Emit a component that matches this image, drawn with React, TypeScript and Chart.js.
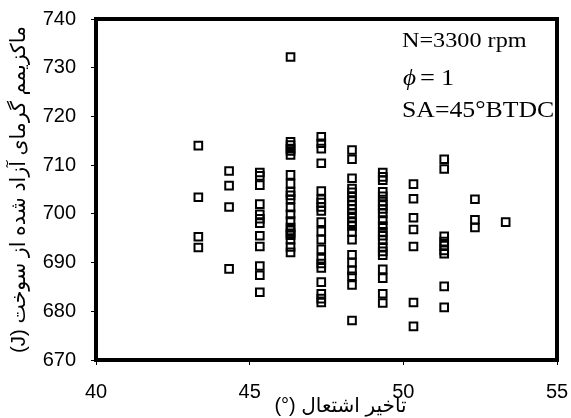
import React, { useEffect, useRef } from "react";
import { Chart, registerables } from "chart.js";

Chart.register(...registerables);

// Ignition delay columns (deg) and the peak heat release values (J) read at each
const delayColumns = [43.33, 44.33, 45.33, 46.33, 47.33, 48.33, 49.33, 50.33, 51.33, 52.33, 53.33];

const heat4333 = [714, 703.4, 695.3, 693.1];
const heat4433 = [708.8, 705.8, 701.4, 688.7];
const heat4533 = [708.5, 707.8, 705.9, 702, 699.9, 699, 698.1, 695.5, 693.3, 689.3, 687.4, 683.9];
const heat4633 = [732.2, 714.8, 714.1, 713.4, 712.9, 712.1, 708, 706.2, 704.5, 703.8, 703, 701.3, 699.9, 698.5, 697.2, 696.6, 696, 695.6, 694.7, 693.2, 692.1];
const heat4733 = [715.8, 714.5, 713.4, 710.4, 704.7, 703, 702.3, 701.4, 700.6, 698.3, 696.4, 694.7, 692.7, 690.8, 689.8, 688.9, 686, 683.6, 682.6, 681.8];
const heat4833 = [713.1, 711.2, 707.3, 705.2, 704.4, 703.5, 702.6, 701.8, 701, 700.1, 699.2, 698.3, 697.5, 696.3, 694.7, 691.6, 690, 688.4, 687.2, 685.4, 678.1];
const heat4933 = [708.5, 707.6, 706.9, 704.5, 703.6, 702.5, 701.8, 701, 700.1, 698.7, 697.5, 696.3, 695.5, 694.6, 693.2, 692.3, 691.5, 688.6, 686.8, 683.6, 681.7];
const heat5033 = [706.1, 703.1, 699.2, 696.8, 693.3, 681.8, 676.9];
const heat5133 = [711.2, 709.2, 695.4, 694.3, 693.5, 692.5, 691.8, 685.1, 680.8];
const heat5233 = [703, 698.8, 697.2];
const heat5333 = [698.3];

const heatByColumn = [heat4333, heat4433, heat4533, heat4633, heat4733, heat4833, heat4933, heat5033, heat5133, heat5233, heat5333];

const xAxisMin = 40;
const xAxisMax = 55;
const xAxisStep = 5;
const yAxisMin = 670;
const yAxisMax = 740;
const yAxisStep = 10;

const xTitle = "تاخیر اشتعال (°)";
const yTitle = "ماکزیمم گرمای آزاد شده از سوخت (J)";
const noteSpeed = "N=3300 rpm";
const notePhiSymbol = "ϕ";
const notePhiEq = "=";
const notePhiValue = "1";
const noteSpark = "SA=45°BTDC";

const SANS = 'Arial, "Liberation Sans", "DejaVu Sans", sans-serif';
const SERIF = '"Liberation Serif", "Times New Roman", serif';
const ARABIC = 'Arial, "DejaVu Sans", sans-serif';

const decorPlugin = {
  id: "decor",
  afterDraw(chart: any) {
    const { ctx, chartArea: a } = chart;
    ctx.save();
    // frame
    ctx.strokeStyle = "#000";
    ctx.lineWidth = 4;
    ctx.strokeRect(a.left, a.top, a.right - a.left, a.bottom - a.top);

    // annotations
    ctx.fillStyle = "#000";
    ctx.direction = "ltr";
    ctx.textAlign = "left";
    ctx.textBaseline = "alphabetic";
    const stretched = (text: string, x: number, y: number, font: string, sx: number) => {
      ctx.save();
      ctx.font = font;
      ctx.translate(x, y);
      ctx.scale(sx, 1);
      ctx.fillText(text, 0, 0);
      ctx.restore();
    };
    const nx = a.right - 155;
    stretched(noteSpeed, nx, a.top + 28, `22px ${SERIF}`, 1.1);
    stretched(notePhiSymbol, nx + 1, a.top + 66, `italic 24px ${SERIF}`, 1.05);
    stretched(notePhiEq, nx + 18, a.top + 66, `24px ${SERIF}`, 1.1);
    stretched(notePhiValue, nx + 39, a.top + 66, `24px ${SERIF}`, 1.1);
    stretched(noteSpark, nx, a.top + 98, `23px ${SERIF}`, 1.12);

    // axis titles (right-to-left)
    ctx.direction = "rtl";
    ctx.textAlign = "center";
    ctx.textBaseline = "middle";
    ctx.font = `20px ${ARABIC}`;
    ctx.fillText(xTitle, (a.left + a.right) / 2 + 14, 406);

    ctx.save();
    ctx.font = `20.5px ${ARABIC}`;
    ctx.translate(19, (a.top + a.bottom) / 2);
    ctx.rotate(-Math.PI / 2);
    ctx.fillText(yTitle, 0, 0);
    ctx.restore();

    ctx.restore();
  },
};

export default function App() {
  const canvasRef = useRef<HTMLCanvasElement | null>(null);

  useEffect(() => {
    if (!canvasRef.current) return;
    const points: { x: number; y: number }[] = [];
    delayColumns.forEach((x, i) => {
      heatByColumn[i].forEach((y) => points.push({ x, y }));
    });

    const tickFont = { family: SANS, size: 20 };
    const chart = new Chart(canvasRef.current, {
      type: "scatter",
      data: {
        datasets: [
          {
            data: points,
            pointStyle: "rect",
            pointRadius: 5.4,
            pointBorderWidth: 2,
            borderColor: "#000",
            backgroundColor: "rgba(255,255,255,0)",
          } as any,
        ],
      },
      options: {
        animation: false,
        responsive: false,
        maintainAspectRatio: false,
        layout: { padding: { top: 19, right: 14, left: 0, bottom: 0 } },
        plugins: { legend: { display: false }, tooltip: { enabled: false } },
        scales: {
          x: {
            type: "linear",
            min: xAxisMin,
            max: xAxisMax,
            ticks: { stepSize: xAxisStep, color: "#000", font: tickFont, padding: 15, maxRotation: 0 },
            grid: { drawOnChartArea: false, tickLength: 5, color: "#000" },
            border: { display: false },
            afterFit: (s: any) => {
              s.height = 58;
              s.paddingLeft = 0;
              s.paddingRight = 0;
            },
          },
          y: {
            type: "linear",
            min: yAxisMin,
            max: yAxisMax,
            ticks: { stepSize: yAxisStep, color: "#000", font: tickFont, padding: 15 },
            grid: { drawOnChartArea: false, tickLength: 5, color: "#000" },
            border: { display: false },
            afterFit: (s: any) => {
              s.width = 96;
              s.paddingTop = 0;
              s.paddingBottom = 0;
            },
          },
        },
      } as any,
      plugins: [decorPlugin],
    });
    return () => chart.destroy();
  }, []);

  return (
    <div style={{ position: "fixed", left: 0, top: 0, width: 571, height: 418, background: "#fff" }}>
      <canvas ref={canvasRef} width={571} height={418} style={{ display: "block" }} />
    </div>
  );
}
